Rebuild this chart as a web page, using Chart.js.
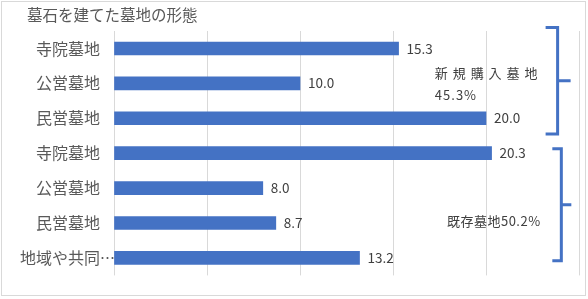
<!DOCTYPE html>
<html><head><meta charset="utf-8">
<script src="https://cdn.jsdelivr.net/npm/chart.js@4/dist/chart.umd.min.js"></script>
<style>html,body{margin:0;padding:0;background:#fff}canvas{display:block}</style>
</head><body>
<canvas id="c" width="588" height="299"></canvas>
<script>
const titleText = '墓石を建てた墓地の形態';
const categories = ['寺院墓地','公営墓地','民営墓地','寺院墓地','公営墓地','民営墓地','地域や共同…'];
const values = [15.3, 10.0, 20.0, 20.3, 8.0, 8.7, 13.2];
const groupLabels = [
  {lines:['新 規 購 入 墓 地','45.3%'], from:0, to:2},
  {lines:['既存墓地50.2%'], from:3, to:6}
];
const xTicks = [0,5,10,15,20,25];

const FONT = '"Noto Sans CJK JP", "Noto Sans", sans-serif';
const BLUE = '#4472C4';
const ELL = '…';

const extras = {
  id:'extras',
  afterDraw(chart){
    const ctx = chart.ctx;
    const ys = chart.scales.y, xs = chart.scales.x;
    const meta = chart.getDatasetMeta(0);
    ctx.save();
    // title
    ctx.font = '15.5px ' + FONT;
    ctx.fillStyle = '#595959';
    ctx.textBaseline = 'middle';
    ctx.textAlign = 'left';
    ctx.fillText(titleText, 27, 15);
    // trailing ellipsis of truncated category labels
    ctx.font = '15px ' + FONT;
    categories.forEach((c,i)=>{
      if (c.endsWith(ELL)) {
        ctx.fillText(ELL, xs.left - 14, ys.getPixelForValue(i));
      }
    });
    // value labels
    ctx.font = '13.5px ' + FONT;
    ctx.fillStyle = '#404040';
    meta.data.forEach((bar,i)=>{
      ctx.fillText(values[i].toFixed(1), bar.x + 8, bar.y);
    });
    // brackets
    ctx.strokeStyle = BLUE;
    ctx.lineWidth = 3;
    const step = ys.getPixelForValue(1) - ys.getPixelForValue(0);
    {
      const g = groupLabels[0];
      const top = ys.getPixelForValue(g.from) - step*0.6;
      const bot = ys.getPixelForValue(g.to) + step*0.45;
      const vx = xs.getPixelForValue(23.85);
      ctx.beginPath();
      ctx.moveTo(vx-12, top); ctx.lineTo(vx, top); ctx.lineTo(vx, bot); ctx.lineTo(vx-12, bot);
      const mid = (top+bot)/2;
      ctx.moveTo(vx, mid); ctx.lineTo(vx+13, mid);
      ctx.stroke();
    }
    {
      const g = groupLabels[1];
      const top = ys.getPixelForValue(g.from) - step*0.13;
      const bot = ys.getPixelForValue(g.to) + step*0.08;
      const vx = xs.getPixelForValue(24.05);
      ctx.beginPath();
      ctx.moveTo(vx-9, top); ctx.lineTo(vx, top); ctx.lineTo(vx, bot); ctx.lineTo(vx-9, bot);
      const mid = (top+bot)/2;
      ctx.moveTo(vx, mid); ctx.lineTo(vx+10, mid);
      ctx.stroke();
    }
    // group texts
    ctx.fillStyle = '#404040';
    ctx.font = '13px ' + FONT;
    ctx.letterSpacing = '1px';
    const x1 = xs.getPixelForValue(17.25);
    ctx.fillText(groupLabels[0].lines[0], x1, ys.getPixelForValue(0.7));
    ctx.fillText(groupLabels[0].lines[1], x1, ys.getPixelForValue(1.33));
    ctx.letterSpacing = '0.5px';
    const x2 = xs.getPixelForValue(17.9);
    ctx.fillText(groupLabels[1].lines[0], x2, ys.getPixelForValue(4.93));
    ctx.letterSpacing = '0px';
    // border
    ctx.strokeStyle = '#D9D9D9';
    ctx.lineWidth = 1;
    ctx.strokeRect(1.5, 1.5, 584, 294);
    ctx.restore();
  }
};

new Chart(document.getElementById('c'), {
  type:'bar',
  data:{
    labels: categories,
    datasets:[{data: values, backgroundColor: BLUE, barThickness: 13}]
  },
  options:{
    indexAxis:'y',
    responsive:false,
    animation:false,
    layout:{padding:{left:4, right:9, top:31, bottom:11}},
    plugins:{
      legend:{display:false},
      tooltip:{enabled:false},
      title:{display:false}
    },
    scales:{
      x:{position:'top', min:0, max:25,
        afterBuildTicks(s){ s.ticks = xTicks.map(v=>({value:v})); },
        ticks:{display:false},
        grid:{color:'#D9D9D9', drawTicks:false},
        border:{display:false}},
      y:{
        afterFit(s){ s.width = 110; },
        grid:{display:false, drawTicks:false},
        border:{display:false},
        ticks:{color:'#595959', padding:14, font:{family:FONT, size:16},
          callback(v){ const c = categories[v]; return c.endsWith(ELL) ? c.slice(0,-1) : c; }}
      }
    }
  },
  plugins:[extras]
});
</script>
</body></html>
